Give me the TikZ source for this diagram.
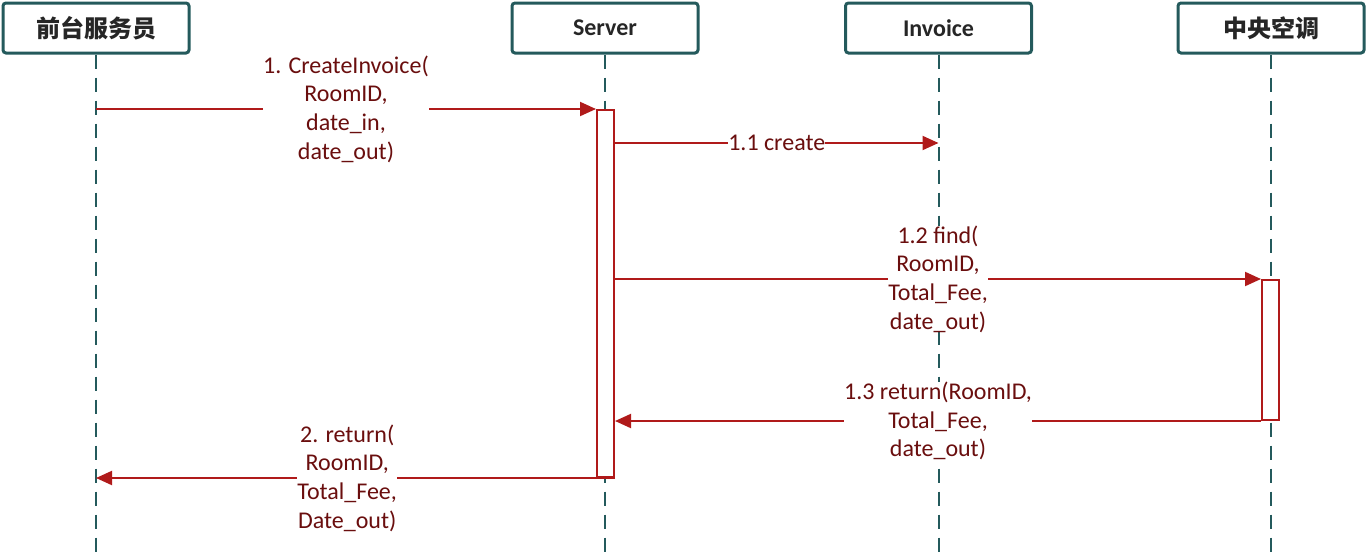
\documentclass[tikz,border=0pt]{standalone}
\usepackage{fontspec}
\setmainfont{Carlito}
\newfontfamily\cjk{Noto Sans CJK SC}
\usetikzlibrary{arrows.meta}
\definecolor{teal}{HTML}{245A5C}
\definecolor{redline}{HTML}{B01A1A}
\definecolor{redtext}{HTML}{6A0E0E}
\tikzset{
  hdr/.style={draw=teal, line width=3pt, rounded corners=3pt, fill=white,
    minimum width=186pt, minimum height=50pt, inner sep=0pt, text=black!85,
    font=\bfseries\fontsize{24}{28}\selectfont},
  life/.style={draw=teal, line width=2pt, dash pattern=on 14pt off 9pt},
  actbar/.style={draw=redline, line width=2pt, fill=white, minimum width=17pt, inner sep=0pt},
  msg/.style={draw=redline, line width=2pt, -{Triangle[length=16pt,width=14pt]}},
  lbl/.style={fill=white, inner sep=0pt, align=center, text=redtext,
    font=\fontsize{24}{28.7}\selectfont}
}
\begin{document}
\begin{tikzpicture}[x=1pt,y=-1pt]
\useasboundingbox (0,0) rectangle (1367,557);
% headers
\node[hdr] (A) at (96,28) {\cjk\bfseries 前台服务员};
\node[hdr] (S) at (605,28) {Server};
\node[hdr] (I) at (938.5,28) {Invoice};
\node[hdr] (C) at (1271,28) {\cjk\bfseries 中央空调};
% lifeline ends
\coordinate (Ae) at (96,557);
\coordinate (Se) at (605,557);
\coordinate (Ie) at (938.5,557);
\coordinate (Ce) at (1271,557);
\draw[life] (A.south) -- (Ae);
\draw[life] (S.south) -- (Se);
\draw[life] (I.south) -- (Ie);
\draw[life] (C.south) -- (Ce);
% activation bars
\node[actbar, minimum height=367pt] (SB) at (605.5,293.5) {};
\node[actbar, minimum height=140pt] (CB) at (1270.5,350) {};
\coordinate (y11) at (0,143);
% messages
\draw[msg] (A |- SB.north west) -- (SB.north west)
  node[lbl, midway] {1. CreateInvoice(\\RoomID,\\date\_in,\\date\_out)};
\draw[msg] (SB.east |- y11) -- (I |- y11)
  node[lbl, midway] {1.1 create};
\draw[msg] (SB.east |- CB.north) -- (CB.north west)
  node[lbl, midway] {1.2 find(\\RoomID,\\Total\_Fee,\\date\_out)};
\draw[msg] (CB.south west) -- (SB.east |- CB.south)
  node[lbl, midway] {1.3 return(RoomID,\\Total\_Fee,\\date\_out)};
\draw[msg] (SB.south east) -- (A |- SB.south)
  node[lbl, pos=0.516] {2. return(\\RoomID,\\Total\_Fee,\\Date\_out)};
\end{tikzpicture}
\end{document}
